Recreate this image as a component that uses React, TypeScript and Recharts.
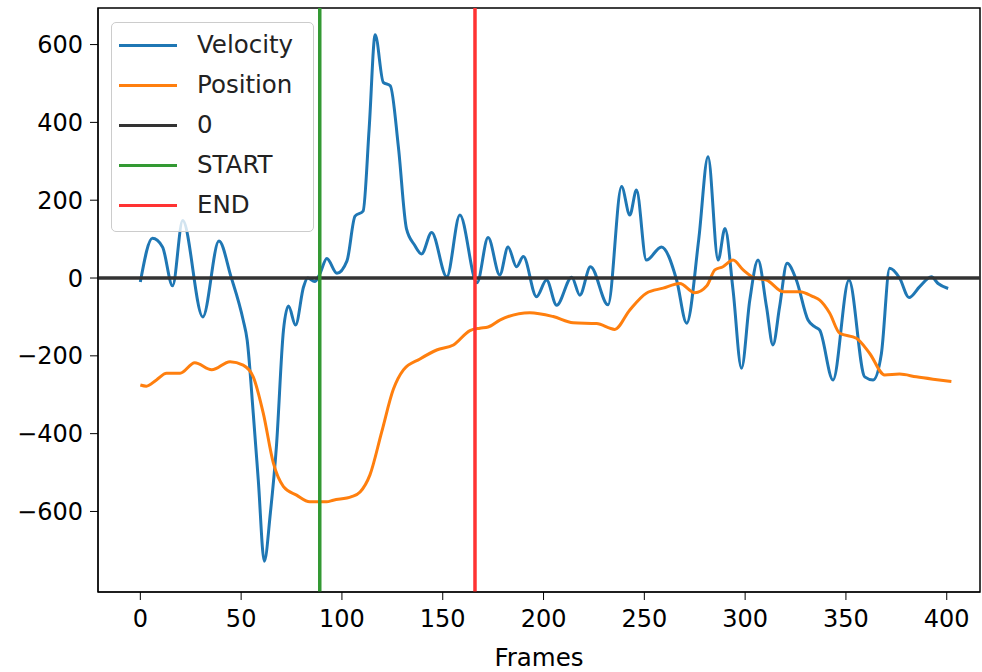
import React from "react";
import {
  Legend,
  Line,
  LineChart,
  ReferenceArea,
  ReferenceLine,
  XAxis,
  YAxis,
} from "recharts";

const velocityFrames = [
  0, 6, 11, 16, 21, 31, 39, 45, 51, 53, 56, 58.5, 61.5, 64.5, 67.5, 71, 73.5,
  77, 81, 83, 86.5, 89, 92.5, 97.5, 102.5, 106.5, 110.5, 113.5, 116.5, 120.5,
  124, 128, 132, 136, 139.5, 144.5, 152, 158.5, 167, 172.5, 178.3, 182.4,
  186.6, 190, 196.5, 201.5, 206.5, 214, 218, 223.3, 232, 238.7, 242.8, 246.1,
  251, 258.5, 266, 271, 277, 281.6, 286.6, 290, 294, 298.2, 302.3, 306.4,
  310.6, 313.8, 317.1, 320.8, 325.4, 331.2, 334.5, 337, 343.6, 351.5, 359.3,
  363.5, 367.6, 371.7, 376.6, 381.3, 386.6, 392.4, 395.7, 400.7,
];
const velocityValues = [
  -10, 102, 80, -20, 148, -100, 95, 3, -108, -160, -347, -519, -728, -604,
  -433, -134, -72, -121, -22, 0, -9, 10, 50, 12, 44, 159, 172, 384, 625, 503,
  494, 337, 127, 85, 62, 117, 3, 162, -12, 104, 8, 80, 29, 55, -48, -5, -70, 2,
  -44, 29, -69, 235, 162, 226, 46, 80, -5, -116, 100, 312, 46, 127, -31, -232,
  -57, 46, -74, -172, -74, 38, -5, -108, -125, -134, -262, -5, -254, -262,
  -194, 25, 0, -50, -22, 3, -14, -27,
];

const positionFrames = [
  0, 3, 8, 13, 19.7, 27, 35.4, 44.5, 51, 56, 61, 66, 71, 77.5, 84, 92.4, 95.7,
  104.8, 109, 113.9, 119.7, 125.5, 130.5, 138.7, 147, 155.3, 163.5, 168.4,
  172.5, 178.3, 193.2, 204.8, 214.7, 226.3, 235.3, 242.8, 251, 259.3, 267.6,
  275, 281, 285, 289, 294, 299, 304.8, 310.6, 318.8, 327.1, 333.7, 337, 341.9,
  346.9, 355.2, 361.8, 369.2, 376.6, 384.9, 393.2, 402.3,
];
const positionValues = [
  -275, -278, -262, -245, -245, -218, -236, -215, -224, -254, -348, -476, -536,
  -558, -575, -575, -571, -562, -550, -506, -396, -286, -236, -208, -185, -172,
  -135, -129, -126, -108, -89, -99, -115, -117, -132, -82, -39, -26, -14, -38,
  -20, 21, 29, 46, 21, 0, -5, -35, -35, -48, -57, -90, -142, -155, -194, -249,
  -247, -254, -260, -266,
];

const xTicks = [0, 50, 100, 150, 200, 250, 300, 350, 400];
const yTicks = [-600, -400, -200, 0, 200, 400, 600];
const startFrame = 89;
const endFrame = 166;

const X_DOMAIN: [number, number] = [-21, 416.5];
const Y_DOMAIN: [number, number] = [-807, 694];

const legendItems = [
  { label: "Velocity", color: "#1f77b4" },
  { label: "Position", color: "#ff7f0e" },
  { label: "0", color: "#333333" },
  { label: "START", color: "#339933" },
  { label: "END", color: "#ff3333" },
];

const velocityData = velocityFrames.map((f, i) => ({ frame: f, value: velocityValues[i] }));
const positionData = positionFrames.map((f, i) => ({ frame: f, value: positionValues[i] }));

const FONT = "'DejaVu Sans', sans-serif";

// matplotlib prints negatives with a real minus sign
const fmtTick = (v: number) => String(v).replace("-", "\u2212");

function LegendBox() {
  return (
    <div
      style={{
        width: 201,
        height: 206,
        paddingTop: 2,
        boxSizing: "content-box",
        background: "rgba(255,255,255,0.8)",
        border: "1px solid #cccccc",
        borderRadius: 5,
        fontFamily: FONT,
        fontSize: 24.5,
        color: "#222",
      }}
    >
      {legendItems.map((item) => (
        <div
          key={item.label}
          style={{ height: 40, display: "flex", alignItems: "center" }}
        >
          <div
            style={{
              marginLeft: 7,
              width: 58,
              height: 3,
              background: item.color,
            }}
          />
          <span style={{ marginLeft: 20, lineHeight: "40px" }}>{item.label}</span>
        </div>
      ))}
    </div>
  );
}

export default function App() {
  return (
    <div style={{ position: "absolute", left: 0, top: 0, background: "#fff" }}>
      <LineChart
        width={982}
        height={672}
        margin={{ top: 8, right: 2, left: 0, bottom: 0 }}
      >
        <XAxis
          dataKey="frame"
          type="number"
          domain={X_DOMAIN}
          ticks={xTicks}
          allowDataOverflow
          height={80}
          tickSize={8}
          tickMargin={10}
          stroke="#000"
          tick={{ fill: "#000", fontSize: 24, fontFamily: FONT }}
          label={{
            value: "Frames",
            position: "insideBottom",
            offset: 6,
            fill: "#000",
            fontSize: 24.5,
            fontFamily: FONT,
          }}
        />
        <YAxis
          type="number"
          domain={Y_DOMAIN}
          ticks={yTicks}
          tickFormatter={fmtTick}
          allowDataOverflow
          width={98}
          tickSize={8}
          tickMargin={7}
          stroke="#000"
          tick={{ fill: "#000", fontSize: 24, fontFamily: FONT }}
        />
        <ReferenceArea
          x1={X_DOMAIN[0]}
          x2={X_DOMAIN[1]}
          y1={Y_DOMAIN[0]}
          y2={Y_DOMAIN[1]}
          fill="none"
          stroke="#000"
          strokeWidth={1.5}
          fillOpacity={0}
        />
        <Line
          data={velocityData}
          dataKey="value"
          type="monotone"
          stroke="#1f77b4"
          strokeWidth={3}
          dot={false}
          isAnimationActive={false}
        />
        <Line
          data={positionData}
          dataKey="value"
          type="monotone"
          stroke="#ff7f0e"
          strokeWidth={3}
          dot={false}
          isAnimationActive={false}
        />
        <ReferenceLine y={0} stroke="#333333" strokeWidth={3.5} />
        <ReferenceLine x={startFrame} stroke="#339933" strokeWidth={3.5} />
        <ReferenceLine x={endFrame} stroke="#ff3333" strokeWidth={3.5} />
        <Legend
          verticalAlign="middle"
          align="center"
          layout="horizontal"
          wrapperStyle={{ left: 111, top: 22, width: "auto", height: "auto" }}
          content={() => <LegendBox />}
        />
      </LineChart>
    </div>
  );
}
